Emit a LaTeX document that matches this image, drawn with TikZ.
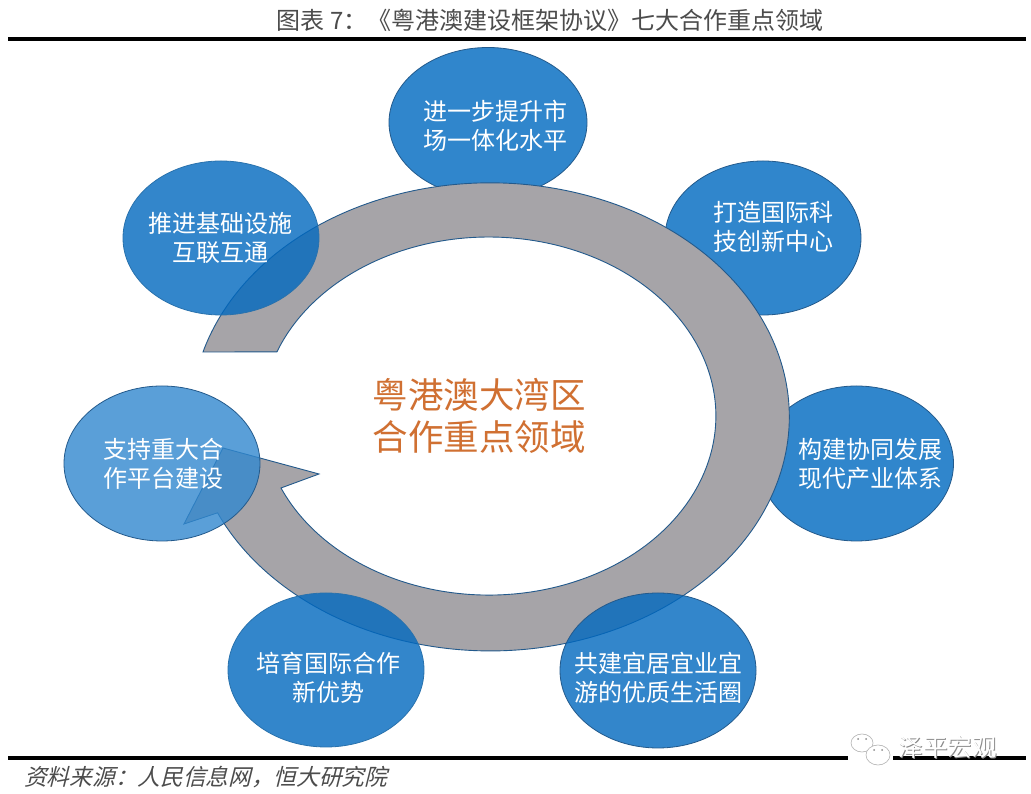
\documentclass[tikz,border=0pt]{standalone}
\usepackage{fontspec}
\usetikzlibrary{shapes.geometric}
\setmainfont{Noto Sans CJK SC}
\newfontfamily\slantcjk[FakeSlant=0.25]{Noto Sans CJK SC}
\definecolor{blueA}{RGB}{0,104,191}
\definecolor{blueB}{RGB}{49,136,207}
\definecolor{blueOpaque}{RGB}{48,134,204}
\definecolor{edgeblue}{RGB}{35,90,140}
\definecolor{arrowgrey}{RGB}{166,164,168}
\definecolor{centreorange}{RGB}{208,112,50}
\tikzset{
  x=1pt,y=1pt,
  blob/.style={ellipse,inner sep=0pt,draw=edgeblue,line width=0.8pt},
  solidblob/.style={blob,fill=blueOpaque},
  glassblob/.style={blob,fill=blueA,fill opacity=0.8},
  softblob/.style={glassblob,draw=blueOpaque!85!black},
  paleblob/.style={blob,fill=blueB,fill opacity=0.8},
  blobtext/.style={text=white,align=center,font=\fontsize{24}{28.5}\selectfont,inner sep=0pt},
  rulebar/.style={black,line width=4pt},
}
\begin{document}
\begin{tikzpicture}
\useasboundingbox (0,0) rectangle (1031,794);
\fill[white] (0,0) rectangle (1031,794);
% ellipses behind the arrow
\node[solidblob,minimum width=198pt,minimum height=150pt] (e1) at (488,671.5) {};
\node[solidblob,minimum width=196pt,minimum height=154pt] (e2) at (763,556) {};
\node[solidblob,minimum width=194pt,minimum height=155pt] (e3) at (856.5,330.5) {};
% circular arrow
\draw[fill=arrowgrey,draw=edgeblue,line width=0.9pt,line join=miter]
  (203,442) arc[start angle=163.9,end angle=-155.8,x radius=299pt,y radius=234pt]
  -- (184,270) -- (223,346) -- (319,320) -- (281,306)
  arc[start angle=-156.3,end angle=159,x radius=227pt,y radius=179pt]
  -- cycle;
% ellipses over the arrow
\node[softblob,minimum width=196pt,minimum height=154pt] (e7) at (221,556) {};
\node[paleblob,minimum width=196pt,minimum height=155pt] (e6) at (162,330.5) {};
\node[softblob,minimum width=196pt,minimum height=154pt] (e5) at (326,124) {};
\node[glassblob,minimum width=196pt,minimum height=155pt] (e4) at (658,123.5) {};
% labels
\node[blobtext] (t1) at (495,668) {进一步提升市\\场一体化水平};
\node[blobtext] (t2) at (773.5,567) {打造国际科\\技创新中心};
\node[blobtext] (t3) at (870.5,330) {构建协同发展\\现代产业体系};
\node[blobtext] (t4) at (658.5,116) {共建宜居宜业宜\\游的优质生活圈};
\node[blobtext] (t5) at (328,116) {培育国际合作\\新优势};
\node[blobtext] (t6) at (163,330) {支持重大合\\作平台建设};
\node[blobtext] (t7) at (220.5,556) {推进基础设施\\互联互通};
\node[text=centreorange,align=center,inner sep=0pt,font=\fontsize{35.5}{42}\selectfont] (centre) at (479,378) {粤港澳大湾区\\合作重点领域};
% title, rules, source
\draw[rulebar] (8,755) -- (1026,755);
\draw[rulebar] (8,36) -- (1026,36);
\node[inner sep=0pt,text=black!70,font=\fontsize{24}{26}\selectfont] (title) at (550,774) {图表 7：《粤港澳建设框架协议》七大合作重点领域};
\node[inner sep=0pt,anchor=west,text=black!70,font=\slantcjk\fontsize{22.7}{26}\selectfont] (source) at (24,17) {资料来源：人民信息网，恒大研究院};
% watermark
\fill[white] (848,33) rectangle (893,39);
\draw[black!30,fill=white,line width=0.6pt] (862,51) ellipse[x radius=11pt,y radius=9pt];
\draw[black!30,fill=white,line width=0.6pt] (878,39) ellipse[x radius=12pt,y radius=10pt];
\fill[black!45] (858,55) circle[radius=1pt] (866,55) circle[radius=1pt] (874,44) circle[radius=1pt] (882,44) circle[radius=1pt];
\node[inner sep=0pt,text=black!45,font=\fontsize{24.5}{26}\selectfont] (wmshadow) at (948.5,46) {泽平宏观};
\node[inner sep=0pt,text=white,font=\fontsize{24.5}{26}\selectfont] (wm) at (947.5,47) {泽平宏观};
\end{tikzpicture}
\end{document}
